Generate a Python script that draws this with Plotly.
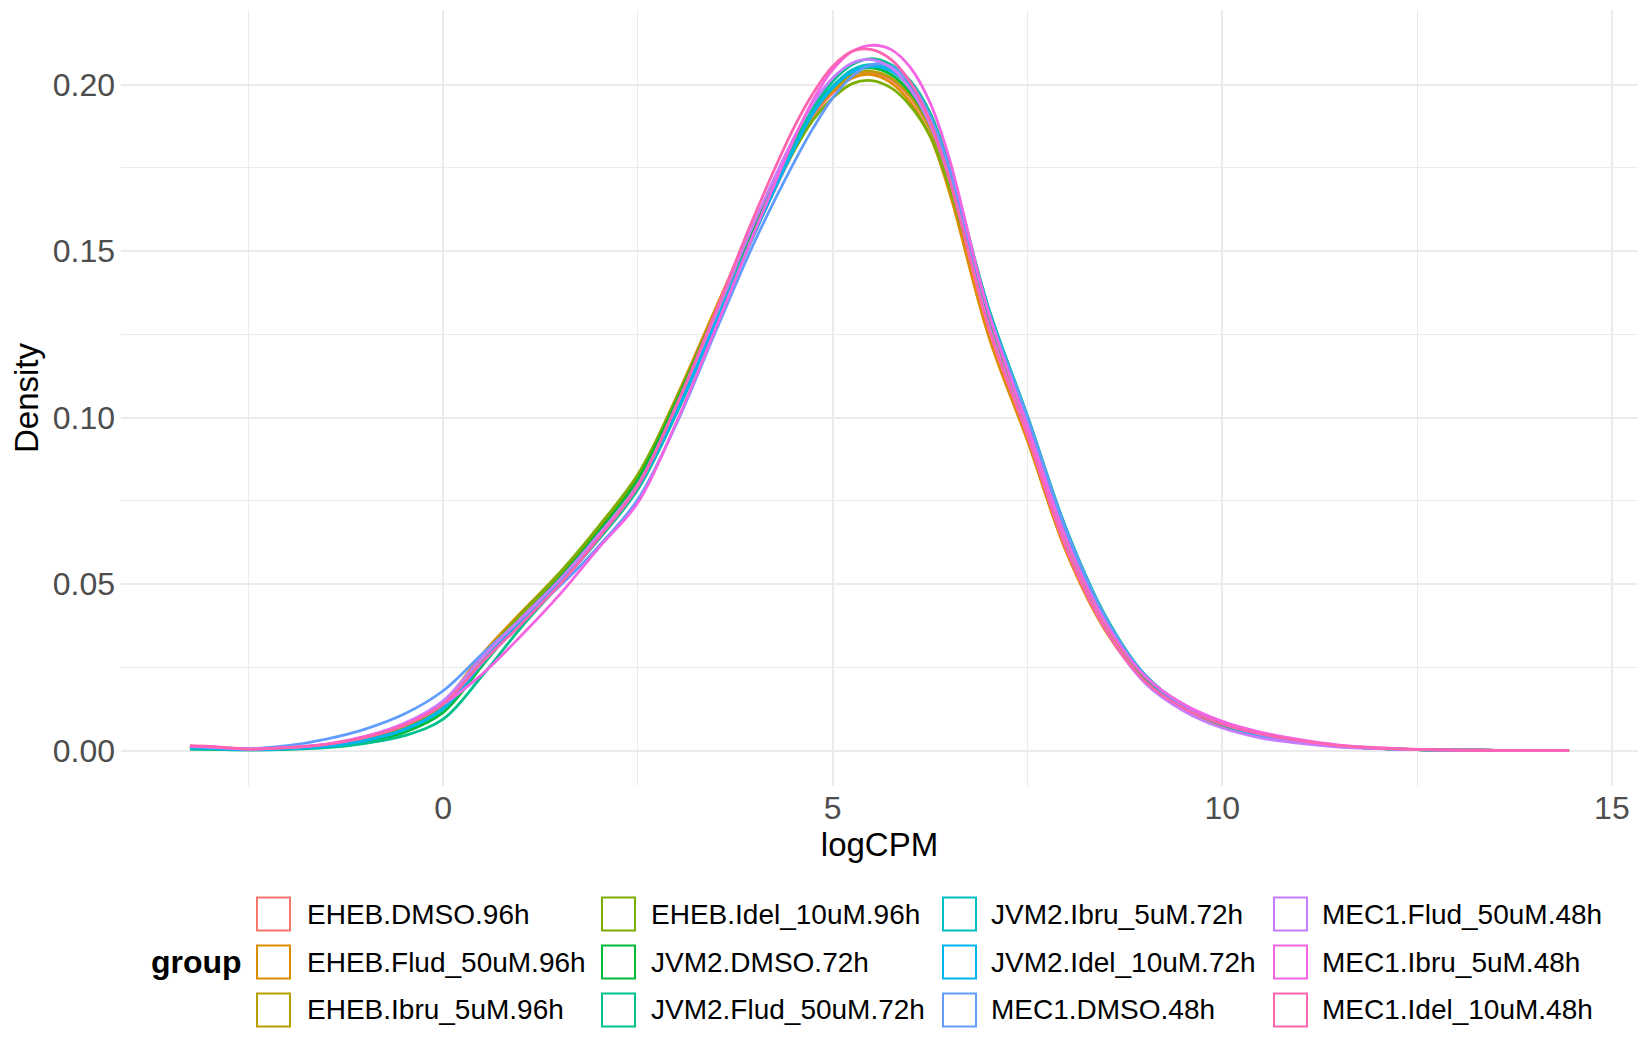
import plotly.graph_objects as go

# logCPM grid the curves were read at
logcpm = [-3.25, -3.0, -2.5, -2.0, -1.5, -1.0, -0.5, 0.0, 0.5, 1.0, 1.5, 2.0, 2.5, 3.0, 3.5,
          4.0, 4.5, 4.75, 5.0, 5.25, 5.5, 5.75, 6.0, 6.25, 6.5, 7.0, 7.5, 8.0, 8.5, 9.0, 9.5,
          10.0, 10.5, 11.0, 11.5, 12.0, 12.5, 13.0, 13.5, 14.0, 14.45]

groups = ["EHEB.DMSO.96h", "EHEB.Flud_50uM.96h", "EHEB.Ibru_5uM.96h", "EHEB.Idel_10uM.96h",
          "JVM2.DMSO.72h", "JVM2.Flud_50uM.72h", "JVM2.Ibru_5uM.72h", "JVM2.Idel_10uM.72h",
          "MEC1.DMSO.48h", "MEC1.Flud_50uM.48h", "MEC1.Ibru_5uM.48h", "MEC1.Idel_10uM.48h"]

colors = ["#F8766D", "#DE8C00", "#B79F00", "#7CAE00", "#00BA38", "#00C08B",
          "#00BFC4", "#00B4F0", "#619CFF", "#C77CFF", "#F564E3", "#FF64B0"]

tail = [0.0007, 0.0003, 0.0002, 0.0001, 0.0001, 0.0001]

eheb_dmso = [0.0014, 0.0012, 0.0004, 0.0007, 0.0015, 0.0032, 0.0068, 0.0135, 0.0275, 0.0400, 0.0515,
             0.0645, 0.0790, 0.1025, 0.1290, 0.1555, 0.1800, 0.1905, 0.1975, 0.2020, 0.2035, 0.2015,
             0.1960, 0.1865, 0.1700, 0.1275, 0.0960, 0.0620, 0.0375, 0.0215, 0.0130, 0.0078, 0.0047,
             0.0027, 0.0014] + tail
eheb_flud = [0.0010, 0.0009, 0.0004, 0.0007, 0.0015, 0.0035, 0.0075, 0.0145, 0.0290, 0.0415, 0.0535,
             0.0670, 0.0825, 0.1065, 0.1330, 0.1590, 0.1820, 0.1915, 0.1980, 0.2020, 0.2030, 0.2005,
             0.1945, 0.1845, 0.1675, 0.1245, 0.0930, 0.0595, 0.0360, 0.0210, 0.0128, 0.0075, 0.0045,
             0.0026, 0.0014] + tail
eheb_ibru = [0.0012, 0.0010, 0.0004, 0.0007, 0.0014, 0.0033, 0.0070, 0.0138, 0.0280, 0.0405, 0.0525,
             0.0660, 0.0810, 0.1045, 0.1310, 0.1575, 0.1815, 0.1915, 0.1985, 0.2030, 0.2040, 0.2020,
             0.1965, 0.1870, 0.1705, 0.1285, 0.0965, 0.0625, 0.0380, 0.0218, 0.0130, 0.0077, 0.0045,
             0.0026, 0.0013] + tail
eheb_idel = [0.0010, 0.0009, 0.0004, 0.0006, 0.0013, 0.0031, 0.0066, 0.0135, 0.0280, 0.0410, 0.0535,
             0.0675, 0.0830, 0.1060, 0.1320, 0.1575, 0.1800, 0.1895, 0.1960, 0.2003, 0.2012, 0.1990,
             0.1935, 0.1845, 0.1690, 0.1290, 0.0975, 0.0640, 0.0388, 0.0222, 0.0132, 0.0078, 0.0045,
             0.0026, 0.0013] + tail
jvm2_dmso = [0.0006, 0.0005, 0.0003, 0.0005, 0.0011, 0.0026, 0.0055, 0.0115, 0.0255, 0.0395, 0.0520,
             0.0660, 0.0815, 0.1050, 0.1315, 0.1580, 0.1825, 0.1925, 0.1995, 0.2040, 0.2050, 0.2030,
             0.1975, 0.1880, 0.1725, 0.1305, 0.0985, 0.0645, 0.0390, 0.0222, 0.0132, 0.0078, 0.0045,
             0.0026, 0.0013] + tail
jvm2_flud = [0.0004, 0.0004, 0.0002, 0.0004, 0.0009, 0.0022, 0.0045, 0.0095, 0.0225, 0.0370, 0.0500,
             0.0635, 0.0785, 0.1015, 0.1285, 0.1560, 0.1815, 0.1930, 0.2010, 0.2060, 0.2078, 0.2060,
             0.2010, 0.1915, 0.1755, 0.1330, 0.1005, 0.0665, 0.0405, 0.0230, 0.0136, 0.0080, 0.0046,
             0.0026, 0.0013] + tail
jvm2_ibru = [0.0008, 0.0007, 0.0003, 0.0006, 0.0013, 0.0030, 0.0062, 0.0125, 0.0260, 0.0390, 0.0510,
             0.0645, 0.0795, 0.1025, 0.1290, 0.1560, 0.1810, 0.1920, 0.1995, 0.2045, 0.2060, 0.2045,
             0.1995, 0.1900, 0.1745, 0.1325, 0.1000, 0.0660, 0.0400, 0.0228, 0.0135, 0.0080, 0.0046,
             0.0026, 0.0013] + tail
jvm2_idel = [0.0009, 0.0008, 0.0003, 0.0006, 0.0013, 0.0031, 0.0064, 0.0128, 0.0265, 0.0395, 0.0512,
             0.0645, 0.0792, 0.1020, 0.1285, 0.1555, 0.1805, 0.1915, 0.1990, 0.2038, 0.2055, 0.2040,
             0.1990, 0.1895, 0.1740, 0.1320, 0.0995, 0.0655, 0.0398, 0.0226, 0.0134, 0.0079, 0.0046,
             0.0026, 0.0013] + tail
mec1_dmso = [0.0012, 0.0010, 0.0006, 0.0015, 0.0035, 0.0065, 0.0110, 0.0180, 0.0290, 0.0395, 0.0495,
             0.0615, 0.0755, 0.0985, 0.1260, 0.1530, 0.1765, 0.1870, 0.1960, 0.2025, 0.2060, 0.2055,
             0.2005, 0.1905, 0.1745, 0.1320, 0.1000, 0.0660, 0.0400, 0.0228, 0.0135, 0.0080, 0.0047,
             0.0027, 0.0014] + tail
mec1_flud = [0.0013, 0.0011, 0.0005, 0.0009, 0.0019, 0.0042, 0.0082, 0.0150, 0.0280, 0.0398, 0.0515,
             0.0650, 0.0800, 0.1040, 0.1310, 0.1590, 0.1840, 0.1945, 0.2020, 0.2065, 0.2075, 0.2050,
             0.1985, 0.1880, 0.1715, 0.1280, 0.0950, 0.0610, 0.0365, 0.0205, 0.0120, 0.0068, 0.0038,
             0.0022, 0.0011] + [0.0006, 0.0003, 0.0002, 0.0001, 0.0001, 0.0001]
mec1_ibru = [0.0014, 0.0012, 0.0005, 0.0010, 0.0020, 0.0043, 0.0080, 0.0140, 0.0230, 0.0345, 0.0470,
             0.0610, 0.0745, 0.0990, 0.1270, 0.1560, 0.1835, 0.1955, 0.2045, 0.2100, 0.2118, 0.2105,
             0.2050, 0.1945, 0.1775, 0.1315, 0.0975, 0.0635, 0.0385, 0.0225, 0.0140, 0.0088, 0.0055,
             0.0033, 0.0017] + [0.0009, 0.0004, 0.0002, 0.0001, 0.0001, 0.0001]
mec1_idel = [0.0015, 0.0013, 0.0005, 0.0009, 0.0019, 0.0040, 0.0076, 0.0140, 0.0265, 0.0380, 0.0500,
             0.0640, 0.0795, 0.1040, 0.1320, 0.1610, 0.1870, 0.1975, 0.2055, 0.2100, 0.2105, 0.2075,
             0.2005, 0.1890, 0.1715, 0.1270, 0.0945, 0.0605, 0.0365, 0.0210, 0.0128, 0.0080, 0.0050,
             0.0030, 0.0015] + [0.0008, 0.0004, 0.0002, 0.0001, 0.0001, 0.0001]

densities = [eheb_dmso, eheb_flud, eheb_ibru, eheb_idel, jvm2_dmso, jvm2_flud,
             jvm2_ibru, jvm2_idel, mec1_dmso, mec1_flud, mec1_ibru, mec1_idel]

# page has an 8px body margin, so the figure is a little smaller than the window
W, H = 1642, 1042
L, R, T, B = 113, 12, 2, 264
FONT = "Liberation Sans, Arial, sans-serif"


def px_x(px):
    return (px - L) / (W - L - R)


def px_y(py):
    return (H - B - py) / (H - T - B)


fig = go.Figure()
for name, col, dens in zip(groups, colors, densities):
    fig.add_trace(go.Scatter(x=logcpm, y=dens, mode="lines", name=name,
                             line=dict(color=col, width=2.8, shape="spline", smoothing=1.0),
                             showlegend=False))

# ggplot-style legend at the bottom: 4 columns x 3 rows, filled column by column
key_x = [249, 594, 935, 1266]
text_x = [297, 641, 981, 1312]
row_y = [906, 954, 1002]
key = 33
shapes = []
annotations = []
for i, (name, col) in enumerate(zip(groups, colors)):
    c, r = i // 3, i % 3
    shapes.append(dict(type="rect", xref="paper", yref="paper",
                       x0=px_x(key_x[c]), x1=px_x(key_x[c] + key),
                       y0=px_y(row_y[r] - key / 2), y1=px_y(row_y[r] + key / 2),
                       line=dict(color=col, width=2), fillcolor="white"))
    annotations.append(dict(text=name, xref="paper", yref="paper", x=px_x(text_x[c]),
                            y=px_y(row_y[r]), xanchor="left", yanchor="middle", showarrow=False,
                            font=dict(size=28, color="black", family=FONT)))
annotations.append(dict(text="<b>group</b>", xref="paper", yref="paper", x=px_x(236),
                        y=px_y(954), xanchor="right", yanchor="middle", showarrow=False,
                        font=dict(size=32, color="black", family=FONT)))

fig.update_layout(
    width=W, height=H,
    margin=dict(l=L, r=R, t=T, b=B),
    paper_bgcolor="white", plot_bgcolor="white",
    font=dict(family=FONT),
    shapes=shapes, annotations=annotations,
    xaxis=dict(range=[-4.135, 15.335], tick0=0, dtick=5, ticks="", showline=False, zeroline=False,
               gridcolor="#EBEBEB", gridwidth=2,
               minor=dict(tick0=0, dtick=2.5, showgrid=True, gridcolor="#EBEBEB", gridwidth=1),
               tickfont=dict(size=32, color="#4D4D4D"),
               title=dict(text="logCPM", font=dict(size=33, color="black"), standoff=3)),
    yaxis=dict(range=[-0.0106, 0.2224], tick0=0, dtick=0.05, tickformat=".2f", ticks="",
               showline=False, zeroline=False, gridcolor="#EBEBEB", gridwidth=2,
               minor=dict(tick0=0, dtick=0.025, showgrid=True, gridcolor="#EBEBEB", gridwidth=1),
               tickfont=dict(size=32, color="#4D4D4D"), ticklabelstandoff=5,
               title=dict(text="Density", font=dict(size=33, color="black"), standoff=6)),
)

fig.write_html("out.html")
